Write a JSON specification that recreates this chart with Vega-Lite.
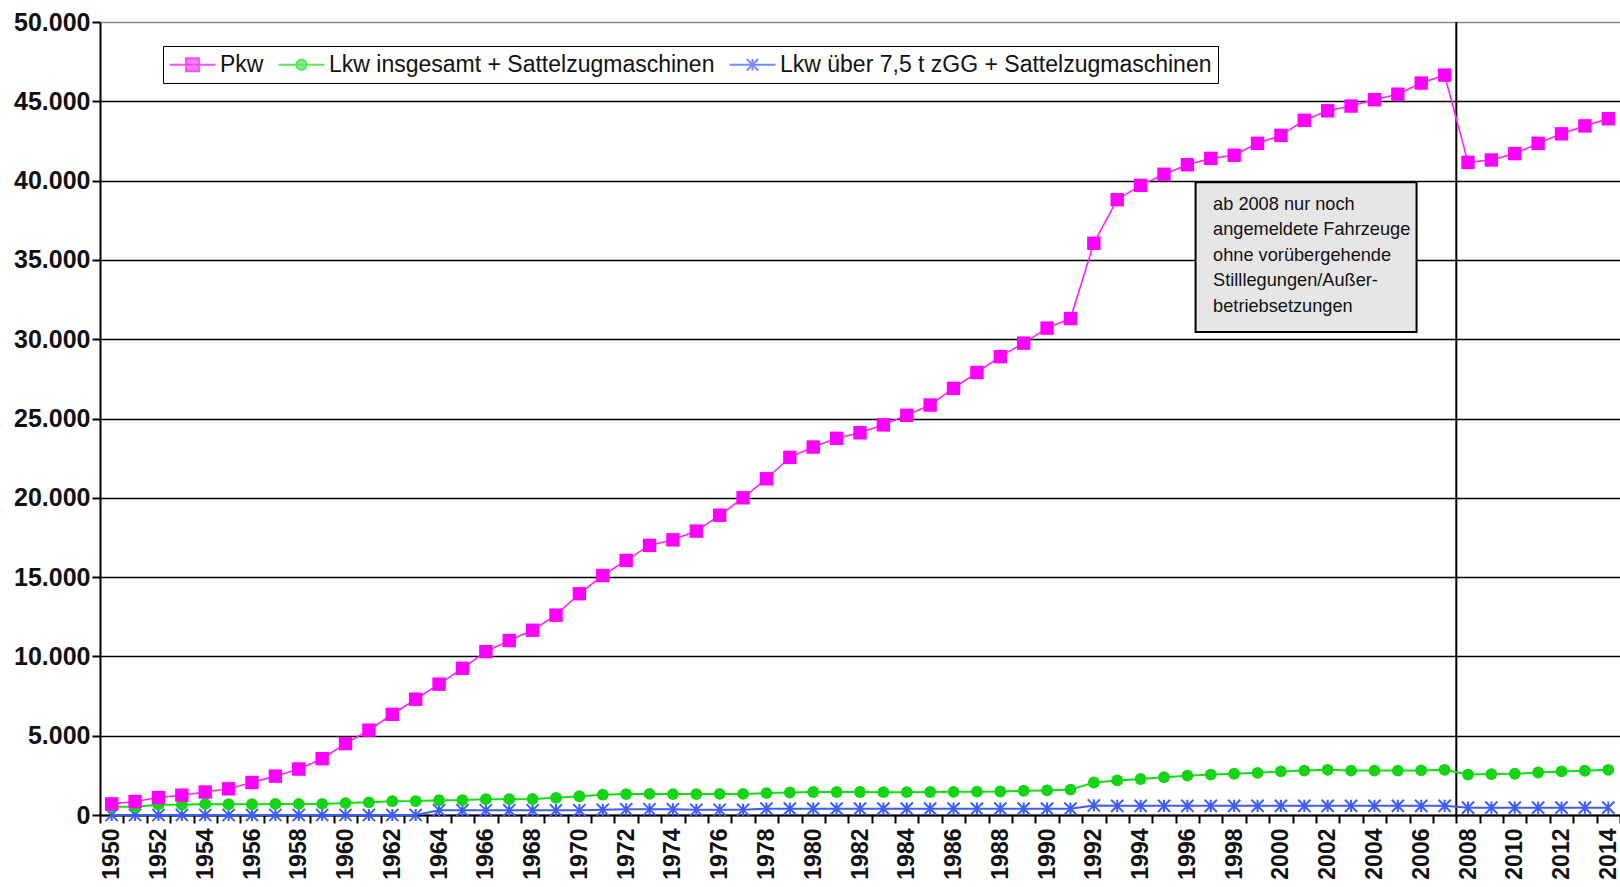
{
"$schema":"https://vega.github.io/schema/vega-lite/v6.json",
"width":1520,"height":793,
"autosize":{"type":"none"},
"padding":{"left":100,"top":22,"right":0,"bottom":72},
"background":"white",
"config":{"view":{"stroke":null},"font":"Liberation Sans"},
"datasets":{
"note":[{"x":1996.35,"x2":2005.8,"y":39900,"y2":30450,"tx":1997.1,"ty":38150,"text":"ab 2008 nur noch\nangemeldete Fahrzeuge\nohne vorübergehende\nStilllegungen/Außer-\nbetriebsetzungen"}],
"divider":[{"x":2007.5}],
"kfz":[
{"year":1950,"series":"Pkw","value":700},{"year":1951,"series":"Pkw","value":850},{"year":1952,"series":"Pkw","value":1100},{"year":1953,"series":"Pkw","value":1250},{"year":1954,"series":"Pkw","value":1450},{"year":1955,"series":"Pkw","value":1650},{"year":1956,"series":"Pkw","value":2050},{"year":1957,"series":"Pkw","value":2450},{"year":1958,"series":"Pkw","value":2900},{"year":1959,"series":"Pkw","value":3550},
{"year":1960,"series":"Pkw","value":4500},{"year":1961,"series":"Pkw","value":5350},{"year":1962,"series":"Pkw","value":6350},{"year":1963,"series":"Pkw","value":7300},{"year":1964,"series":"Pkw","value":8250},{"year":1965,"series":"Pkw","value":9250},{"year":1966,"series":"Pkw","value":10300},{"year":1967,"series":"Pkw","value":11000},{"year":1968,"series":"Pkw","value":11650},{"year":1969,"series":"Pkw","value":12600},
{"year":1970,"series":"Pkw","value":13950},{"year":1971,"series":"Pkw","value":15100},{"year":1972,"series":"Pkw","value":16050},{"year":1973,"series":"Pkw","value":17000},{"year":1974,"series":"Pkw","value":17350},{"year":1975,"series":"Pkw","value":17900},{"year":1976,"series":"Pkw","value":18900},{"year":1977,"series":"Pkw","value":20000},{"year":1978,"series":"Pkw","value":21200},{"year":1979,"series":"Pkw","value":22550},
{"year":1980,"series":"Pkw","value":23200},{"year":1981,"series":"Pkw","value":23750},{"year":1982,"series":"Pkw","value":24100},{"year":1983,"series":"Pkw","value":24600},{"year":1984,"series":"Pkw","value":25200},{"year":1985,"series":"Pkw","value":25850},{"year":1986,"series":"Pkw","value":26900},{"year":1987,"series":"Pkw","value":27900},{"year":1988,"series":"Pkw","value":28900},{"year":1989,"series":"Pkw","value":29750},
{"year":1990,"series":"Pkw","value":30700},{"year":1991,"series":"Pkw","value":31300},{"year":1992,"series":"Pkw","value":36050},{"year":1993,"series":"Pkw","value":38800},{"year":1994,"series":"Pkw","value":39700},{"year":1995,"series":"Pkw","value":40400},{"year":1996,"series":"Pkw","value":41000},{"year":1997,"series":"Pkw","value":41400},{"year":1998,"series":"Pkw","value":41600},{"year":1999,"series":"Pkw","value":42350},
{"year":2000,"series":"Pkw","value":42850},{"year":2001,"series":"Pkw","value":43800},{"year":2002,"series":"Pkw","value":44400},{"year":2003,"series":"Pkw","value":44700},{"year":2004,"series":"Pkw","value":45100},{"year":2005,"series":"Pkw","value":45450},{"year":2006,"series":"Pkw","value":46150},{"year":2007,"series":"Pkw","value":46650},{"year":2008,"series":"Pkw","value":41150},{"year":2009,"series":"Pkw","value":41300},
{"year":2010,"series":"Pkw","value":41700},{"year":2011,"series":"Pkw","value":42350},{"year":2012,"series":"Pkw","value":42950},{"year":2013,"series":"Pkw","value":43450},{"year":2014,"series":"Pkw","value":43900},
{"year":1950,"series":"Lkw insgesamt + Sattelzugmaschinen","value":520},{"year":1951,"series":"Lkw insgesamt + Sattelzugmaschinen","value":520},{"year":1952,"series":"Lkw insgesamt + Sattelzugmaschinen","value":650},{"year":1953,"series":"Lkw insgesamt + Sattelzugmaschinen","value":650},{"year":1954,"series":"Lkw insgesamt + Sattelzugmaschinen","value":700},{"year":1955,"series":"Lkw insgesamt + Sattelzugmaschinen","value":680},{"year":1956,"series":"Lkw insgesamt + Sattelzugmaschinen","value":680},{"year":1957,"series":"Lkw insgesamt + Sattelzugmaschinen","value":700},{"year":1958,"series":"Lkw insgesamt + Sattelzugmaschinen","value":700},{"year":1959,"series":"Lkw insgesamt + Sattelzugmaschinen","value":700},
{"year":1960,"series":"Lkw insgesamt + Sattelzugmaschinen","value":750},{"year":1961,"series":"Lkw insgesamt + Sattelzugmaschinen","value":800},{"year":1962,"series":"Lkw insgesamt + Sattelzugmaschinen","value":870},{"year":1963,"series":"Lkw insgesamt + Sattelzugmaschinen","value":880},{"year":1964,"series":"Lkw insgesamt + Sattelzugmaschinen","value":930},{"year":1965,"series":"Lkw insgesamt + Sattelzugmaschinen","value":940},{"year":1966,"series":"Lkw insgesamt + Sattelzugmaschinen","value":1000},{"year":1967,"series":"Lkw insgesamt + Sattelzugmaschinen","value":1000},{"year":1968,"series":"Lkw insgesamt + Sattelzugmaschinen","value":1010},{"year":1969,"series":"Lkw insgesamt + Sattelzugmaschinen","value":1080},
{"year":1970,"series":"Lkw insgesamt + Sattelzugmaschinen","value":1180},{"year":1971,"series":"Lkw insgesamt + Sattelzugmaschinen","value":1280},{"year":1972,"series":"Lkw insgesamt + Sattelzugmaschinen","value":1320},{"year":1973,"series":"Lkw insgesamt + Sattelzugmaschinen","value":1330},{"year":1974,"series":"Lkw insgesamt + Sattelzugmaschinen","value":1320},{"year":1975,"series":"Lkw insgesamt + Sattelzugmaschinen","value":1320},{"year":1976,"series":"Lkw insgesamt + Sattelzugmaschinen","value":1330},{"year":1977,"series":"Lkw insgesamt + Sattelzugmaschinen","value":1330},{"year":1978,"series":"Lkw insgesamt + Sattelzugmaschinen","value":1380},{"year":1979,"series":"Lkw insgesamt + Sattelzugmaschinen","value":1420},
{"year":1980,"series":"Lkw insgesamt + Sattelzugmaschinen","value":1450},{"year":1981,"series":"Lkw insgesamt + Sattelzugmaschinen","value":1450},{"year":1982,"series":"Lkw insgesamt + Sattelzugmaschinen","value":1450},{"year":1983,"series":"Lkw insgesamt + Sattelzugmaschinen","value":1440},{"year":1984,"series":"Lkw insgesamt + Sattelzugmaschinen","value":1440},{"year":1985,"series":"Lkw insgesamt + Sattelzugmaschinen","value":1450},{"year":1986,"series":"Lkw insgesamt + Sattelzugmaschinen","value":1460},{"year":1987,"series":"Lkw insgesamt + Sattelzugmaschinen","value":1470},{"year":1988,"series":"Lkw insgesamt + Sattelzugmaschinen","value":1480},{"year":1989,"series":"Lkw insgesamt + Sattelzugmaschinen","value":1530},
{"year":1990,"series":"Lkw insgesamt + Sattelzugmaschinen","value":1550},{"year":1991,"series":"Lkw insgesamt + Sattelzugmaschinen","value":1600},{"year":1992,"series":"Lkw insgesamt + Sattelzugmaschinen","value":2050},{"year":1993,"series":"Lkw insgesamt + Sattelzugmaschinen","value":2180},{"year":1994,"series":"Lkw insgesamt + Sattelzugmaschinen","value":2270},{"year":1995,"series":"Lkw insgesamt + Sattelzugmaschinen","value":2380},{"year":1996,"series":"Lkw insgesamt + Sattelzugmaschinen","value":2480},{"year":1997,"series":"Lkw insgesamt + Sattelzugmaschinen","value":2550},{"year":1998,"series":"Lkw insgesamt + Sattelzugmaschinen","value":2600},{"year":1999,"series":"Lkw insgesamt + Sattelzugmaschinen","value":2660},
{"year":2000,"series":"Lkw insgesamt + Sattelzugmaschinen","value":2750},{"year":2001,"series":"Lkw insgesamt + Sattelzugmaschinen","value":2800},{"year":2002,"series":"Lkw insgesamt + Sattelzugmaschinen","value":2850},{"year":2003,"series":"Lkw insgesamt + Sattelzugmaschinen","value":2800},{"year":2004,"series":"Lkw insgesamt + Sattelzugmaschinen","value":2800},{"year":2005,"series":"Lkw insgesamt + Sattelzugmaschinen","value":2800},{"year":2006,"series":"Lkw insgesamt + Sattelzugmaschinen","value":2810},{"year":2007,"series":"Lkw insgesamt + Sattelzugmaschinen","value":2850},{"year":2008,"series":"Lkw insgesamt + Sattelzugmaschinen","value":2550},{"year":2009,"series":"Lkw insgesamt + Sattelzugmaschinen","value":2580},
{"year":2010,"series":"Lkw insgesamt + Sattelzugmaschinen","value":2600},{"year":2011,"series":"Lkw insgesamt + Sattelzugmaschinen","value":2680},{"year":2012,"series":"Lkw insgesamt + Sattelzugmaschinen","value":2750},{"year":2013,"series":"Lkw insgesamt + Sattelzugmaschinen","value":2790},{"year":2014,"series":"Lkw insgesamt + Sattelzugmaschinen","value":2850},
{"year":1950,"series":"Lkw über 7,5 t zGG + Sattelzugmaschinen","value":0},{"year":1951,"series":"Lkw über 7,5 t zGG + Sattelzugmaschinen","value":0},{"year":1952,"series":"Lkw über 7,5 t zGG + Sattelzugmaschinen","value":0},{"year":1953,"series":"Lkw über 7,5 t zGG + Sattelzugmaschinen","value":0},{"year":1954,"series":"Lkw über 7,5 t zGG + Sattelzugmaschinen","value":0},{"year":1955,"series":"Lkw über 7,5 t zGG + Sattelzugmaschinen","value":0},{"year":1956,"series":"Lkw über 7,5 t zGG + Sattelzugmaschinen","value":0},{"year":1957,"series":"Lkw über 7,5 t zGG + Sattelzugmaschinen","value":0},{"year":1958,"series":"Lkw über 7,5 t zGG + Sattelzugmaschinen","value":0},{"year":1959,"series":"Lkw über 7,5 t zGG + Sattelzugmaschinen","value":0},
{"year":1960,"series":"Lkw über 7,5 t zGG + Sattelzugmaschinen","value":0},{"year":1961,"series":"Lkw über 7,5 t zGG + Sattelzugmaschinen","value":0},{"year":1962,"series":"Lkw über 7,5 t zGG + Sattelzugmaschinen","value":0},{"year":1963,"series":"Lkw über 7,5 t zGG + Sattelzugmaschinen","value":0},{"year":1964,"series":"Lkw über 7,5 t zGG + Sattelzugmaschinen","value":300},{"year":1965,"series":"Lkw über 7,5 t zGG + Sattelzugmaschinen","value":300},{"year":1966,"series":"Lkw über 7,5 t zGG + Sattelzugmaschinen","value":300},{"year":1967,"series":"Lkw über 7,5 t zGG + Sattelzugmaschinen","value":300},{"year":1968,"series":"Lkw über 7,5 t zGG + Sattelzugmaschinen","value":300},{"year":1969,"series":"Lkw über 7,5 t zGG + Sattelzugmaschinen","value":300},
{"year":1970,"series":"Lkw über 7,5 t zGG + Sattelzugmaschinen","value":300},{"year":1971,"series":"Lkw über 7,5 t zGG + Sattelzugmaschinen","value":330},{"year":1972,"series":"Lkw über 7,5 t zGG + Sattelzugmaschinen","value":360},{"year":1973,"series":"Lkw über 7,5 t zGG + Sattelzugmaschinen","value":360},{"year":1974,"series":"Lkw über 7,5 t zGG + Sattelzugmaschinen","value":360},{"year":1975,"series":"Lkw über 7,5 t zGG + Sattelzugmaschinen","value":330},{"year":1976,"series":"Lkw über 7,5 t zGG + Sattelzugmaschinen","value":330},{"year":1977,"series":"Lkw über 7,5 t zGG + Sattelzugmaschinen","value":330},{"year":1978,"series":"Lkw über 7,5 t zGG + Sattelzugmaschinen","value":400},{"year":1979,"series":"Lkw über 7,5 t zGG + Sattelzugmaschinen","value":400},
{"year":1980,"series":"Lkw über 7,5 t zGG + Sattelzugmaschinen","value":400},{"year":1981,"series":"Lkw über 7,5 t zGG + Sattelzugmaschinen","value":400},{"year":1982,"series":"Lkw über 7,5 t zGG + Sattelzugmaschinen","value":400},{"year":1983,"series":"Lkw über 7,5 t zGG + Sattelzugmaschinen","value":400},{"year":1984,"series":"Lkw über 7,5 t zGG + Sattelzugmaschinen","value":400},{"year":1985,"series":"Lkw über 7,5 t zGG + Sattelzugmaschinen","value":400},{"year":1986,"series":"Lkw über 7,5 t zGG + Sattelzugmaschinen","value":400},{"year":1987,"series":"Lkw über 7,5 t zGG + Sattelzugmaschinen","value":400},{"year":1988,"series":"Lkw über 7,5 t zGG + Sattelzugmaschinen","value":400},{"year":1989,"series":"Lkw über 7,5 t zGG + Sattelzugmaschinen","value":400},
{"year":1990,"series":"Lkw über 7,5 t zGG + Sattelzugmaschinen","value":400},{"year":1991,"series":"Lkw über 7,5 t zGG + Sattelzugmaschinen","value":400},{"year":1992,"series":"Lkw über 7,5 t zGG + Sattelzugmaschinen","value":600},{"year":1993,"series":"Lkw über 7,5 t zGG + Sattelzugmaschinen","value":580},{"year":1994,"series":"Lkw über 7,5 t zGG + Sattelzugmaschinen","value":580},{"year":1995,"series":"Lkw über 7,5 t zGG + Sattelzugmaschinen","value":580},{"year":1996,"series":"Lkw über 7,5 t zGG + Sattelzugmaschinen","value":580},{"year":1997,"series":"Lkw über 7,5 t zGG + Sattelzugmaschinen","value":580},{"year":1998,"series":"Lkw über 7,5 t zGG + Sattelzugmaschinen","value":580},{"year":1999,"series":"Lkw über 7,5 t zGG + Sattelzugmaschinen","value":580},
{"year":2000,"series":"Lkw über 7,5 t zGG + Sattelzugmaschinen","value":580},{"year":2001,"series":"Lkw über 7,5 t zGG + Sattelzugmaschinen","value":580},{"year":2002,"series":"Lkw über 7,5 t zGG + Sattelzugmaschinen","value":580},{"year":2003,"series":"Lkw über 7,5 t zGG + Sattelzugmaschinen","value":580},{"year":2004,"series":"Lkw über 7,5 t zGG + Sattelzugmaschinen","value":580},{"year":2005,"series":"Lkw über 7,5 t zGG + Sattelzugmaschinen","value":580},{"year":2006,"series":"Lkw über 7,5 t zGG + Sattelzugmaschinen","value":580},{"year":2007,"series":"Lkw über 7,5 t zGG + Sattelzugmaschinen","value":580},{"year":2008,"series":"Lkw über 7,5 t zGG + Sattelzugmaschinen","value":460},{"year":2009,"series":"Lkw über 7,5 t zGG + Sattelzugmaschinen","value":460},
{"year":2010,"series":"Lkw über 7,5 t zGG + Sattelzugmaschinen","value":460},{"year":2011,"series":"Lkw über 7,5 t zGG + Sattelzugmaschinen","value":460},{"year":2012,"series":"Lkw über 7,5 t zGG + Sattelzugmaschinen","value":460},{"year":2013,"series":"Lkw über 7,5 t zGG + Sattelzugmaschinen","value":460},{"year":2014,"series":"Lkw über 7,5 t zGG + Sattelzugmaschinen","value":460}
]},
"layer":[
{"data":{"name":"note"},
 "layer":[
  {"mark":{"type":"rect","fill":"#e6e6e6","stroke":"black","strokeWidth":2},
   "encoding":{"x":{"field":"x","type":"quantitative","scale":{"domain":[1949.5,2014.5],"nice":false,"zero":false},"axis":null},"x2":{"field":"x2"},
     "y":{"field":"y","type":"quantitative","scale":{"domain":[0,50000],"nice":false,"zero":false},"axis":null},"y2":{"field":"y2"}}},
  {"mark":{"type":"text","align":"left","baseline":"alphabetic","lineBreak":"\n","lineHeight":25.5,"font":"Liberation Sans","fontSize":18.2,"color":"#111"},
   "encoding":{"x":{"field":"tx","type":"quantitative","scale":{"domain":[1949.5,2014.5],"nice":false,"zero":false},"axis":null},
     "y":{"field":"ty","type":"quantitative","scale":{"domain":[0,50000],"nice":false,"zero":false},"axis":null},"text":{"field":"text"}}},
  {"data":{"name":"divider"},"mark":{"type":"rule","color":"black","strokeWidth":2},
   "encoding":{"x":{"field":"x","type":"quantitative","scale":{"domain":[1949.5,2014.5],"nice":false,"zero":false},"axis":null}}}
 ]},
{"data":{"name":"kfz"},
 "layer":[
  {"transform":[{"filter":"datum.series == 'Lkw über 7,5 t zGG + Sattelzugmaschinen'"}],
   "mark":{"type":"line","color":"#3d5cff","strokeWidth":2,"point":{"shape":"M-1,-1L1,1M-1,1L1,-1M0,-1V1","size":150,"filled":false,"color":"#3d5cff","strokeWidth":2}},
   "encoding":{"x":{"field":"year","type":"ordinal","bandPosition":0.5,"scale":{"type":"band","paddingInner":0,"paddingOuter":0},
      "axis":{"title":null,"tickBand":"extent","labelAngle":-90,"labelExpr":"datum.value % 2 == 0 ? datum.label : ''","labelFont":"Liberation Sans","labelFontSize":23,"labelFontWeight":"bold","labelColor":"#111","labelPadding":5,"tickSize":8,"tickWidth":2,"tickColor":"black","domainColor":"black","domainWidth":2,"labelOverlap":false,"grid":false}},
     "y":{"field":"value","type":"quantitative","scale":{"domain":[0,50000],"nice":false,"zero":false},
      "axis":{"title":null,"values":[0,5000,10000,15000,20000,25000,30000,35000,40000,45000,50000],"labelExpr":"replace(format(datum.value, ','), ',', '.')","labelFont":"Liberation Sans","labelFontSize":25,"labelFontWeight":"bold","labelColor":"#111","labelPadding":2,"tickSize":8,"tickWidth":2,"tickColor":"black","domainColor":"black","domainWidth":2,"grid":true,"gridColor":{"condition":{"test":"datum.value == 50000","value":"#8a8a8a"},"value":"black"},"gridWidth":1.6}}}},
  {"transform":[{"filter":"datum.series == 'Lkw insgesamt + Sattelzugmaschinen'"}],
   "mark":{"type":"line","color":"#11e011","strokeWidth":2,"point":{"shape":"circle","size":140,"filled":true,"color":"#14d414"}},
   "encoding":{"x":{"field":"year","type":"ordinal","bandPosition":0.5},"y":{"field":"value","type":"quantitative"}}},
  {"transform":[{"filter":"datum.series == 'Pkw'"}],
   "mark":{"type":"line","color":"#ff22ff","strokeWidth":1.6,"point":{"shape":"square","size":180,"filled":true,"color":"#ff00ff"}},
   "encoding":{"x":{"field":"year","type":"ordinal","bandPosition":0.5},"y":{"field":"value","type":"quantitative"}}},
  {"transform":[{"filter":"false"}],
   "mark":{"type":"point","strokeWidth":2},
   "encoding":{
     "stroke":{"field":"series","type":"nominal","scale":{"domain":["Pkw","Lkw insgesamt + Sattelzugmaschinen","Lkw über 7,5 t zGG + Sattelzugmaschinen"],"range":["#ff00ff","#11e011","#3d5cff"]},
       "legend":{"title":null,"orient":"none","legendX":63,"legendY":24,"direction":"horizontal","strokeColor":"black","fillColor":"white","padding":6,"labelFont":"Liberation Sans","labelFontSize":23,"labelColor":"#111","labelLimit":2000,"symbolSize":529,"symbolStrokeWidth":2,"symbolOffset":11,"labelOffset":15,"columnPadding":10}},
     "fill":{"field":"series","type":"nominal","scale":{"domain":["Pkw","Lkw insgesamt + Sattelzugmaschinen","Lkw über 7,5 t zGG + Sattelzugmaschinen"],"range":["#ff00ff","#14d414","#3d5cff"]},
       "legend":{"title":null,"orient":"none","legendX":63,"legendY":24,"direction":"horizontal","strokeColor":"black","fillColor":"white","padding":6,"labelFont":"Liberation Sans","labelFontSize":23,"labelColor":"#111","labelLimit":2000,"symbolSize":529,"symbolStrokeWidth":2,"symbolOffset":11,"labelOffset":15,"columnPadding":10}},
     "shape":{"field":"series","type":"nominal","scale":{"domain":["Pkw","Lkw insgesamt + Sattelzugmaschinen","Lkw über 7,5 t zGG + Sattelzugmaschinen"],"range":["M-2,0H2M-0.56,-0.56H0.56V0.56H-0.56Z","M-2,0H2M0.45,0A0.45,0.45 0 1,1 -0.45,0A0.45,0.45 0 1,1 0.45,0Z","M-2,0H2M-0.5,-0.5L0.5,0.5M-0.5,0.5L0.5,-0.5M0,-0.5V0.5"]},
       "legend":{"title":null,"orient":"none","legendX":63,"legendY":24,"direction":"horizontal","strokeColor":"black","fillColor":"white","padding":6,"labelFont":"Liberation Sans","labelFontSize":23,"labelColor":"#111","labelLimit":2000,"symbolSize":529,"symbolStrokeWidth":2,"symbolOffset":11,"labelOffset":15,"columnPadding":10}}}}
 ]}
],
"resolve":{"scale":{"x":"independent"},"axis":{"y":"independent"}}
}
